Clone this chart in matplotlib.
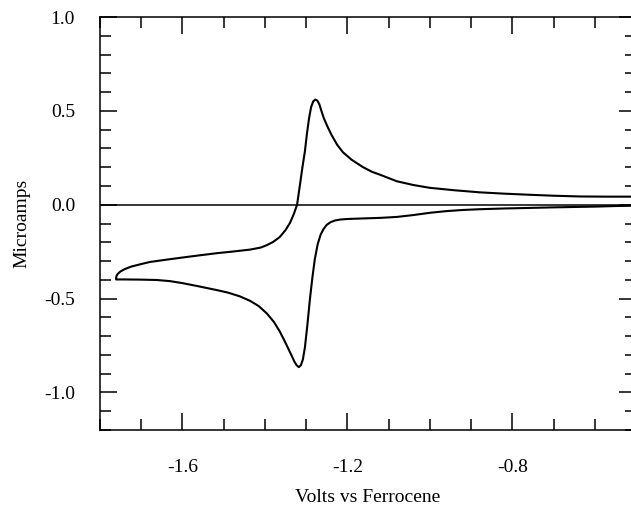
#!python
# cyclic voltammogram, current vs potential against ferrocene
import numpy as np
import matplotlib
matplotlib.use('Agg')
import matplotlib.pyplot as plt
from matplotlib.ticker import MultipleLocator, FormatStrFormatter

# forward scan (right to left)
fwd_v = [-0.500, -0.550, -0.600, -0.650, -0.700, -0.758, -0.820, -0.880, -0.920, -0.960,
         -1.000, -1.040, -1.080, -1.120, -1.162, -1.200, -1.218, -1.230, -1.240, -1.250,
         -1.258, -1.265, -1.272, -1.279, -1.285, -1.291, -1.297, -1.303, -1.308, -1.313,
         -1.318, -1.323, -1.328, -1.335, -1.343, -1.352, -1.364, -1.378, -1.395, -1.415,
         -1.436, -1.461, -1.490, -1.516, -1.560, -1.599, -1.630, -1.662, -1.700, -1.740,
         -1.761]
fwd_i = [-0.005, -0.007, -0.010, -0.012, -0.014, -0.017, -0.020, -0.024, -0.028, -0.034,
         -0.043, -0.055, -0.065, -0.070, -0.073, -0.076, -0.079, -0.084, -0.092, -0.107,
         -0.130, -0.160, -0.210, -0.290, -0.390, -0.506, -0.640, -0.760, -0.825, -0.856,
         -0.865, -0.855, -0.838, -0.805, -0.768, -0.727, -0.675, -0.625, -0.580, -0.540,
         -0.512, -0.488, -0.468, -0.455, -0.435, -0.418, -0.407, -0.401, -0.399, -0.398,
         -0.398]
# reverse scan (left to right)
rev_v = [-1.761, -1.760, -1.757, -1.750, -1.740, -1.725, -1.700, -1.679, -1.640, -1.599,
         -1.560, -1.516, -1.476, -1.436, -1.410, -1.395, -1.380, -1.364, -1.350, -1.339,
         -1.330, -1.322, -1.315, -1.309, -1.303, -1.298, -1.293, -1.288, -1.283, -1.278,
         -1.273, -1.268, -1.263, -1.257, -1.248, -1.238, -1.225, -1.211, -1.190, -1.162,
         -1.140, -1.121, -1.100, -1.080, -1.040, -1.000, -0.940, -0.879, -0.820, -0.758,
         -0.700, -0.636, -0.570, -0.500]
rev_i = [-0.392, -0.380, -0.368, -0.355, -0.343, -0.330, -0.316, -0.305, -0.293, -0.281,
         -0.270, -0.258, -0.249, -0.239, -0.228, -0.215, -0.198, -0.172, -0.135, -0.096,
         -0.050, 0.000, 0.107, 0.200, 0.285, 0.380, 0.460, 0.520, 0.550, 0.560,
         0.555, 0.535, 0.500, 0.460, 0.415, 0.370, 0.320, 0.280, 0.240, 0.200,
         0.175, 0.160, 0.142, 0.125, 0.105, 0.090, 0.077, 0.066, 0.059, 0.053,
         0.048, 0.044, 0.043, 0.043]

plt.rcParams['font.family'] = ['Liberation Serif', 'DejaVu Serif']
plt.rcParams['axes.unicode_minus'] = False

fig = plt.figure(figsize=(6.31, 5.08), dpi=100)
ax = fig.add_axes([100/631, 78/508, 536/631, 413/508])

ax.plot(fwd_v + rev_v, fwd_i + rev_i, color='k', lw=1.5, solid_joinstyle='round')
ax.axhline(0, color='k', lw=1.1)

ax.set_xlim(-1.8, -0.5)
ax.set_ylim(-1.2, 1.0)
ax.xaxis.set_major_locator(MultipleLocator(0.4))
ax.xaxis.set_minor_locator(MultipleLocator(0.1))
ax.yaxis.set_major_locator(MultipleLocator(0.5))
ax.yaxis.set_minor_locator(MultipleLocator(0.1))
ax.xaxis.set_major_formatter(FormatStrFormatter('%.1f'))
ax.yaxis.set_major_formatter(FormatStrFormatter('%.1f'))

ax.tick_params(which='both', direction='in', top=True, right=True, width=1.1, labelsize=14)
ax.tick_params(which='major', length=12)
ax.tick_params(which='minor', length=8)
ax.tick_params(axis='x', which='major', pad=21)
ax.tick_params(axis='y', which='major', pad=18)
for s in ax.spines.values():
  s.set_linewidth(1.1)

ax.set_xlabel('Volts vs Ferrocene', fontsize=14)
ax.set_ylabel('Microamps', fontsize=14)
ax.xaxis.set_label_coords(0.5, (430 - 498) / 413)
ax.yaxis.set_label_coords((22 - 100) / 536, 0.5)
ax.xaxis.label.set_va('center')
ax.yaxis.label.set_va('center')

plt.savefig('out.png', dpi=100)
